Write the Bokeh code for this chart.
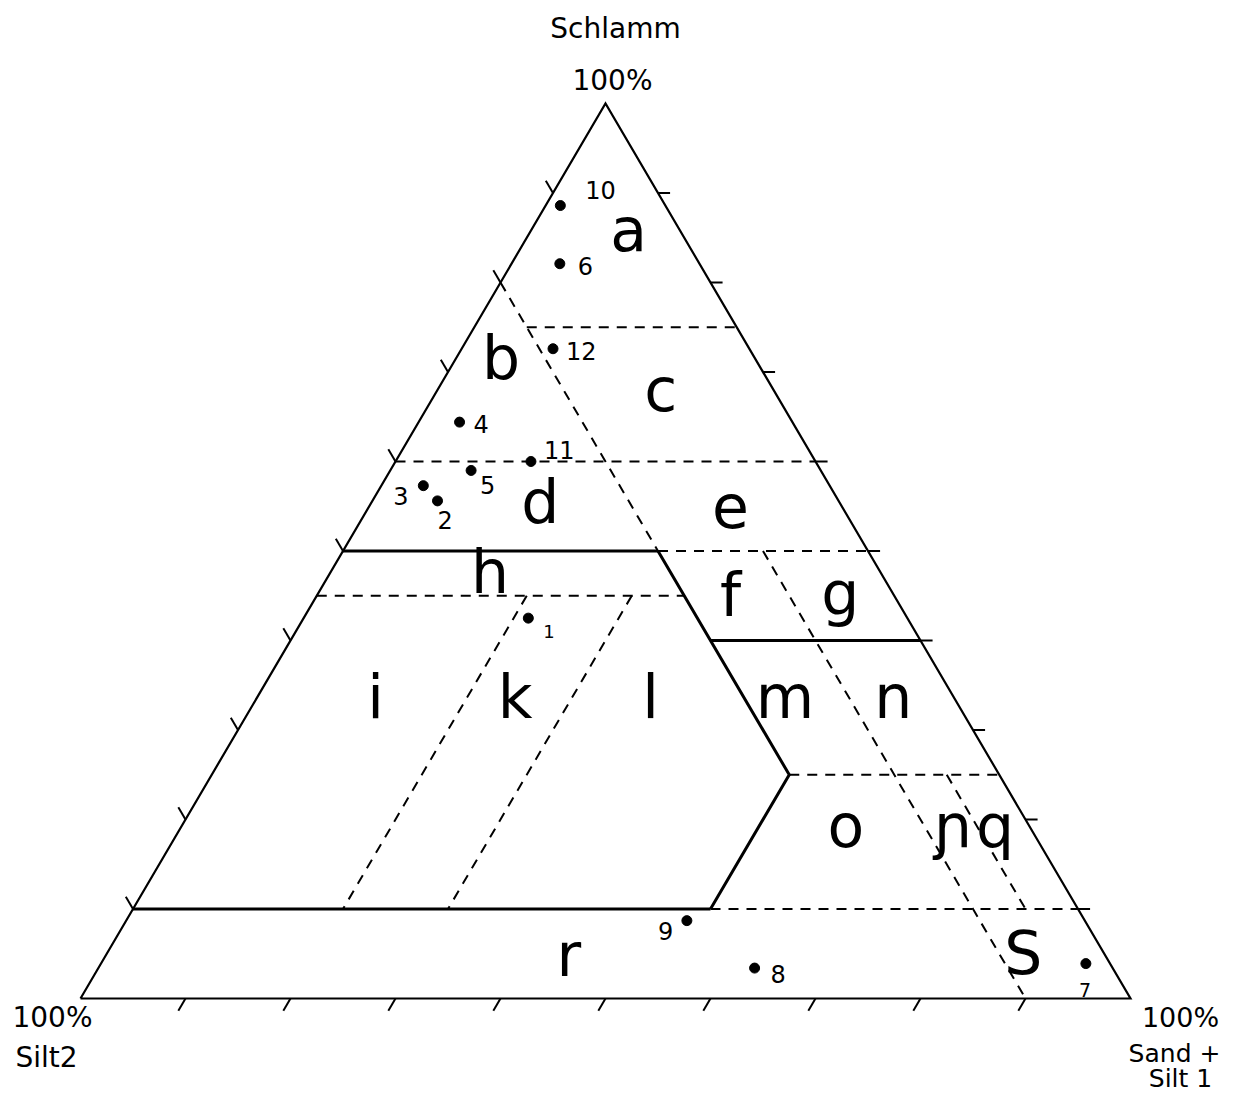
import math
from bokeh.plotting import figure
from bokeh.models import Range1d, ColumnDataSource
from bokeh.embed import file_html
from bokeh.resources import INLINE
from bokeh.core.properties import value

# ---------------- data ----------------
# sample compositions in percent: Schlamm (top), Sand+Silt1 (right), Silt2 (left)
sample_ids = ["1", "2", "3", "4", "5", "6", "7", "8", "9", "10", "11", "12"]
schlamm    = [42.5, 55.6, 57.3, 64.4, 59.0, 82.1, 3.9, 3.4, 8.7, 88.6, 60.0, 72.6]
sand_silt1 = [21.4, 6.2, 4.0, 3.9, 7.7, 4.6, 93.8, 62.5, 53.4, 1.4, 12.9, 8.7]
silt2      = [36.1, 38.2, 38.7, 31.7, 33.3, 13.3, 2.3, 34.1, 37.9, 10.0, 27.1, 18.7]

# class boundaries as (Schlamm, Sand+Silt1) end points
dashed_bounds = [
    [(80, 0), (50, 30)],    # Silt2 = 20 %
    [(75, 5), (75, 25)],
    [(60, 0), (60, 40)],
    [(50, 30), (50, 50)],
    [(45, 0), (45, 35)],
    [(25, 55), (25, 75)],
    [(10, 55), (10, 90)],
    [(50, 40), (0, 90)],    # Silt2 = 10 %
    [(25, 70), (10, 85)],   # Silt2 = 5 %
    [(45, 20), (10, 20)],   # Sand+Silt1 = 20 %
    [(45, 30), (10, 30)],   # Sand+Silt1 = 30 %
]
solid_bounds = [
    [(50, 0), (50, 30)],
    [(50, 30), (25, 55), (10, 55)],
    [(40, 40), (40, 60)],
    [(10, 0), (10, 55)],
]

# class letters and their placement (Schlamm, Sand+Silt1)
class_letters = ["a", "b", "c", "d", "e", "f", "g", "h", "i", "k", "l",
                 "m", "n", "o", "ɲ", "q", "r", "S"]
letter_schlamm = [83.6, 69.3, 65.7, 53.2, 52.8, 42.8, 43.1, 45.4, 31.4, 31.4, 31.4,
                  31.4, 31.4, 17.0, 17.0, 17.0, 2.6, 2.8]
letter_sand    = [10.4, 5.4, 22.4, 17.2, 35.5, 40.5, 50.8, 16.3, 12.4, 25.7, 38.6,
                  51.4, 61.7, 64.4, 74.6, 78.6, 45.2, 88.4]

tick_values = [10, 20, 30, 40, 50, 60, 70, 80, 90]

# ---------------- geometry ----------------
H = 85.238  # triangle height (base = 100)


def tern(s, b):
    return b + s / 2.0, s * H / 100.0


PX = 10.5          # screen px per unit
W, HT = 1225, 1092
p = figure(width=W, height=HT,
           x_range=Range1d(-80 / PX, (W - 80) / PX),
           y_range=Range1d(-(HT - 998) / PX, 998 / PX),
           x_axis_type=None, y_axis_type=None,
           output_backend="svg", toolbar_location=None, min_border=0)
p.grid.visible = False
p.outline_line_color = None
p.background_fill_color = "white"

# triangle
tx, ty = zip(*[tern(0, 0), tern(0, 100), tern(100, 0), tern(0, 0)])
p.line(list(tx), list(ty), line_color="black", line_width=2.2, line_join="miter")

# ticks
L = 1.35
n = math.hypot(-50.0, H)
ux, uy = -50.0 / n, H / n
xs, ys = [], []
for t in tick_values:
    x0, y0 = tern(t, 0)                      # left edge, ticks up-left
    xs.append([x0, x0 + L * ux]); ys.append([y0, y0 + L * uy])
    x0, y0 = tern(t, 100 - t)                # right edge, ticks to the right
    xs.append([x0, x0 + 1.15]); ys.append([y0, y0])
    x0, y0 = tern(0, t)                      # bottom edge, ticks down-left
    xs.append([x0, x0 + L * ux]); ys.append([y0, y0 - L * uy])
p.multi_line(xs, ys, line_color="black", line_width=2)

# boundaries
dx, dy = [], []
for seg in dashed_bounds:
    pts = [tern(s, b) for s, b in seg]
    dx.append([q[0] for q in pts]); dy.append([q[1] for q in pts])
p.multi_line(dx, dy, line_color="black", line_width=2, line_dash="10 8")

sx, sy = [], []
for seg in solid_bounds:
    pts = [tern(s, b) for s, b in seg]
    sx.append([q[0] for q in pts]); sy.append([q[1] for q in pts])
p.multi_line(sx, sy, line_color="black", line_width=3, line_join="miter")

# class letters
lx, ly = zip(*[tern(s, b) for s, b in zip(letter_schlamm, letter_sand)])
p.text(list(lx), list(ly), text=class_letters, text_font=value("DejaVu Sans"),
       text_font_size="60px", text_align="center", text_baseline="alphabetic",
       y_offset=-20, text_color="black")

# samples
px_, py_ = zip(*[tern(s, b) for s, b in zip(schlamm, sand_silt1)])
p.scatter(list(px_), list(py_), size=10, color="black")

off_x = [15, 0, -30, 14, 9, 18, -7, 16, -29, 25, 13, 13]
off_y = [13, 19, 10, 2, 15, 2, 26, 6, 10, -16, -12, 2]
fsize = ["18px", "24px", "24px", "24px", "24px", "24px", "19px", "24px", "24px",
         "24px", "24px", "24px"]
src = ColumnDataSource(dict(x=list(px_), y=list(py_), t=sample_ids, xo=off_x, yo=off_y, fs=fsize))
p.text("x", "y", text="t", x_offset="xo", y_offset="yo", text_font_size="fs",
       text_font=value("DejaVu Sans"), text_align="left", text_baseline="alphabetic",
       text_color="black", source=src)

# vertex labels
vt = tern(100, 0)
vl = tern(0, 0)
vr = tern(0, 100)
lab = ColumnDataSource(dict(
    x=[vt[0], vt[0], vl[0], vl[0], vr[0], vr[0], vr[0]],
    y=[vt[1], vt[1], vl[1], vl[1], vr[1], vr[1], vr[1]],
    t=["Schlamm", "100%", "100%", "Silt2", "100%", "Sand +", "Silt 1"],
    xo=[10, 7, -28, -34, 50, 44, 50],
    yo=[-75, -23, 19, 59, 19, 55, 80],
    fs=["28px", "28px", "28px", "28px", "27px", "25px", "25px"],
))
p.text("x", "y", text="t", x_offset="xo", y_offset="yo", text_font_size="fs",
       text_font=value("DejaVu Sans"), text_align="center", text_baseline="alphabetic",
       text_color="black", source=lab)

open("out.html", "w").write(file_html(p, INLINE))
